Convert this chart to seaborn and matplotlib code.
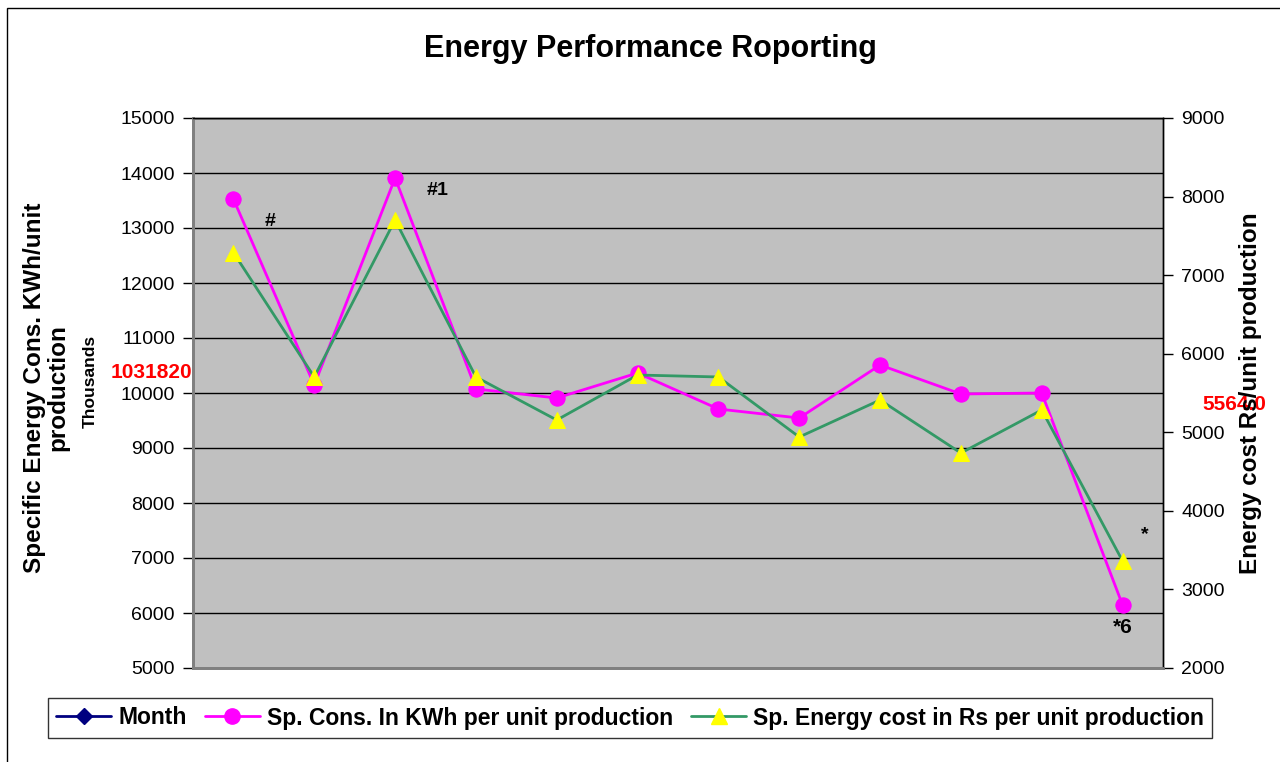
import matplotlib
matplotlib.use("Agg")
import matplotlib.pyplot as plt
import seaborn as sns
import numpy as np
import pandas as pd
from matplotlib.lines import Line2D
from matplotlib.patches import Rectangle

sns.set_theme(style="white")
plt.rcParams['font.family'] = ['Liberation Sans', 'DejaVu Sans']
plt.rcParams['text.color'] = 'black'
plt.rcParams['axes.labelcolor'] = 'black'
plt.rcParams['xtick.color'] = 'black'
plt.rcParams['ytick.color'] = 'black'

# ---- data ----
months = list(range(1, 13))
sp_cons_kwh = [13527, 10145, 13909, 10073, 9909, 10364, 9709, 9545, 10509, 9982, 10000, 6145]
sp_cost_rs = [7288, 5704, 7702, 5704, 5156, 5729, 5704, 4940, 5411, 4736, 5284, 3362]
month_series = months  # plotted values fall below the visible range
left_ticks = list(range(5000, 15001, 1000))
right_ticks = list(range(2000, 9001, 1000))
title = "Energy Performance Roporting"
left_label = "Specific Energy Cons. KWh/unit\nproduction"
right_label = "Energy cost Rs/unit production"
label_cons = "Sp. Cons. In KWh per unit production"
label_cost = "Sp. Energy cost in Rs per unit production"

df = pd.DataFrame({"month": months, "cons": sp_cons_kwh, "cost": sp_cost_rs, "m": month_series})

W, H = 1280, 762
fig = plt.figure(figsize=(W / 100, H / 100), dpi=100)
fig.patch.set_facecolor("white")
fig.add_artist(Rectangle((7 / W, -0.05), 1.2, 1.05 - 8 / H, transform=fig.transFigure,
                         fill=False, edgecolor="black", linewidth=1.0))

L, R, T, B = 193, 1163, 118, 668
ax = fig.add_axes([L / W, 1 - B / H, (R - L) / W, (B - T) / H])
ax.set_facecolor("#C0C0C0")
ax2 = ax.twinx()

sns.lineplot(data=df, x="month", y="m", ax=ax, color="#000080", marker="D",
             markersize=8, linewidth=1.8, legend=False)
sns.lineplot(data=df, x="month", y="cons", ax=ax, color="#FF00FF", marker="o",
             markersize=11, markeredgecolor="#FF00FF", markerfacecolor="#FF00FF",
             linewidth=2.0, legend=False)
sns.lineplot(data=df, x="month", y="cost", ax=ax2, color="#339966", marker="^",
             markersize=11, markeredgecolor="#FFFF00", markerfacecolor="#FFFF00",
             linewidth=2.0, legend=False)

ax.set_xlim(0.5, 12.5)
ax.set_ylim(5000, 15000)
ax2.set_ylim(2000, 9000)
ax.set_yticks(left_ticks)
ax.set_yticklabels([str(t) for t in left_ticks])
ax2.set_yticks(right_ticks)
ax2.set_yticklabels([str(t) for t in right_ticks])
ax.set_xticks([])
ax.set_xlabel("")
ax.set_ylabel("")
ax2.set_ylabel("")
ax.yaxis.grid(True, color="black", linewidth=1.0)
ax.set_axisbelow(True)

for a in (ax, ax2):
    a.tick_params(axis="y", direction="out", length=7, width=1, colors="black",
                  labelsize=14, pad=6)
    for s in a.spines.values():
        s.set_color("black")
        s.set_linewidth(1)
for a in (ax, ax2):
    a.spines["left"].set_color("#808080")
    a.spines["left"].set_linewidth(2)
    a.spines["bottom"].set_color("#808080")
    a.spines["bottom"].set_linewidth(2)

# annotations
ax.text(1.45, 13127, "#", fontsize=14, fontweight="bold", ha="center", va="center")
ax.text(3.52, 13673, "#1", fontsize=14, fontweight="bold", ha="center", va="center")
ax.text(12.27, 7418, "*", fontsize=14, fontweight="bold", ha="center", va="center")
ax.text(12.0, 5745, "*6", fontsize=15, fontweight="bold", ha="center", va="center")

fig.text(151 / W, 1 - 373 / H, "1031820", color="red", fontsize=15, fontweight="bold",
         ha="center", va="center")
fig.text(1234 / W, 1 - 404 / H, "5564.0", color="red", fontsize=15, fontweight="bold",
         ha="center", va="center", zorder=1)

fig.text(650 / W, 1 - 49 / H, title, fontsize=22, fontweight="bold", ha="center", va="center")
fig.text(46 / W, 1 - 388 / H, left_label, fontsize=17.5, fontweight="bold", rotation=90,
         ha="center", va="center", multialignment="center", linespacing=1.0)
fig.text(90 / W, 1 - 381 / H, "Thousands", fontsize=12.5, fontweight="bold", rotation=90,
         ha="center", va="center")
fig.text(1250 / W, 1 - 393 / H, right_label, fontsize=17.5, fontweight="bold", rotation=90,
         ha="center", va="center", zorder=2)

handles = [
    Line2D([], [], color="#000080", marker="D", markersize=8, linewidth=2),
    Line2D([], [], color="#FF00FF", marker="o", markersize=11, linewidth=2),
    Line2D([], [], color="#339966", marker="^", markersize=11, markerfacecolor="#FFFF00",
           markeredgecolor="#FFFF00", linewidth=2),
]
leg = fig.legend(handles, ["Month", label_cons, label_cost], loc="center",
                 bbox_to_anchor=(630 / W, 1 - 718 / H), ncol=3, frameon=True,
                 fancybox=False, edgecolor="black",
                 prop={"weight": "bold", "size": 16.5}, handlelength=2.4,
                 handletextpad=0.3, columnspacing=0.8, borderpad=0.35,
                 borderaxespad=0)
leg.get_frame().set_linewidth(1)

fig.savefig("out.png", dpi=100, facecolor="white")
